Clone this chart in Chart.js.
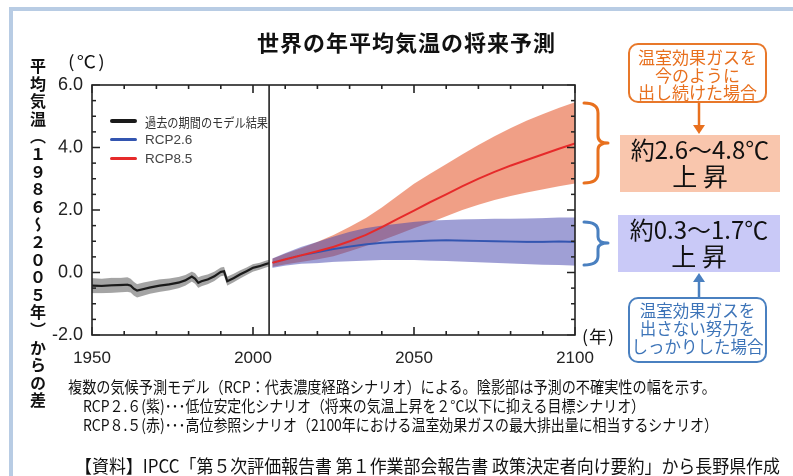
<!DOCTYPE html>
<html lang="ja">
<head>
<meta charset="utf-8">
<title>世界の年平均気温の将来予測</title>
<script src="https://cdn.jsdelivr.net/npm/chart.js@4.4.1/dist/chart.umd.min.js"></script>
<style>
  html, body { margin: 0; padding: 0; background: #fff; }
  body { width: 793px; height: 476px; position: relative; overflow: hidden;
         font-family: "Noto Sans CJK JP", "Noto Sans", sans-serif; color: #111; }
  #frame { position: absolute; left: 9px; top: 7px; width: 800px; height: 480px;
           border-left: 4px solid #b8cce4; border-top: 4px solid #b8cce4; }
  #chart { position: absolute; left: 0; top: 0; }
  .t { position: absolute; white-space: nowrap; line-height: 1; transform-origin: left center; }
  #title { left: 257px; top: 30px; font-size: 22px; font-weight: bold; letter-spacing: 1px; }
  #ylabel { left: 30px; top: 58px; font-size: 16px; font-weight: bold; line-height: 1;
            writing-mode: vertical-rl; letter-spacing: 1.6px; }
  #unitC { left: 68px; top: 52px; font-size: 17px; letter-spacing: 2px; }
  #unitY { left: 582px; top: 327px; font-size: 17px; letter-spacing: 1px; }
  .sw { position: absolute; left: 110px; width: 27px; height: 3.5px; border-radius: 2px; }
  .lg { font-size: 13px; color: #333; }
  .lgr { font-family: "Liberation Sans", Arial, sans-serif; font-size: 13.5px; color: #444; }
  .rbox { position: absolute; box-sizing: border-box; border-radius: 10px; background: #fff;
          text-align: center; }
  .vbox { position: absolute; box-sizing: border-box; text-align: center; color: #111; }
  .note { font-size: 16px; color: #111; }
  #src { font-size: 18px; }
  svg { position: absolute; left: 0; top: 0; }
</style>
</head>
<body>
<div id="frame"></div>
<canvas id="chart" width="793" height="476"></canvas>

<div class="t" id="title">世界の年平均気温の将来予測</div>
<div class="t" id="ylabel">平均気温（１９８６～２００５年）からの差</div>
<div class="t" id="unitC" data-w="39">(℃)</div>
<div class="t" id="unitY" data-w="33">(年)</div>

<div class="sw" style="top:119px;background:#1a1a1a"></div>
<div class="sw" style="top:137.5px;background:#3355b0"></div>
<div class="sw" style="top:156.5px;background:#e62a2a"></div>
<div class="t lg" style="left:145px;top:115px" data-w="123">過去の期間のモデル結果</div>
<div class="t lgr" style="left:145px;top:132.5px">RCP2.6</div>
<div class="t lgr" style="left:145px;top:151.5px">RCP8.5</div>

<div class="rbox" style="left:628px;top:43px;width:139px;height:60px;border:2px solid #e8782a;color:#e8701e;font-size:17px;line-height:17.5px;padding-top:3px">温室効果ガスを<br>今のように<br>出し続けた場合</div>
<div class="vbox" style="left:620px;top:135px;width:160px;height:57px;background:#f9c6ad;font-size:24px;line-height:27px">約2.6～4.8℃<br><span style="font-size:25px">上 昇</span></div>
<div class="vbox" style="left:618px;top:215px;width:162px;height:57px;background:#c9c9f7;font-size:24px;line-height:27px">約0.3～1.7℃<br><span style="font-size:25px">上 昇</span></div>
<div class="rbox" style="left:628px;top:297px;width:139px;height:66px;border:2px solid #4a80c0;color:#3d74b8;font-size:16.5px;line-height:18px;padding-top:2px">温室効果ガスを<br>出さない努力を<br>しっかりした場合</div>

<svg width="793" height="476">
  <g fill="none" stroke-width="3" stroke-linejoin="round" stroke-linecap="round">
    <path stroke="#e8701e" d="M584,103 Q598,103 598,113 L598,136 Q598,143 608,143 Q598,143 598,150 L598,173 Q598,183 584,183"/>
    <path stroke="#4a80c0" d="M584,222 Q598,222 598,231 L598,237 Q598,243 608,243 Q598,243 598,249 L598,256 Q598,265 584,265"/>
  </g>
  <line x1="699" y1="103" x2="699" y2="126" stroke="#e8701e" stroke-width="2.5"/>
  <polygon points="693,125 705,125 699,134" fill="#e8701e"/>
  <line x1="699" y1="297" x2="699" y2="281" stroke="#4a80c0" stroke-width="2.5"/>
  <polygon points="693,282 705,282 699,273" fill="#4a80c0"/>
</svg>

<div class="t note" style="left:68px;top:378px" data-w="648">複数の気候予測モデル（RCP：代表濃度経路シナリオ）による。陰影部は予測の不確実性の幅を示す。</div>
<div class="t note" style="left:83px;top:397px" data-w="562">RCP２.６(紫)･･･低位安定化シナリオ（将来の気温上昇を２°C以下に抑える目標シナリオ）</div>
<div class="t note" style="left:83px;top:416px" data-w="635">RCP８.５(赤)･･･高位参照シナリオ（2100年における温室効果ガスの最大排出量に相当するシナリオ）</div>
<div class="t" id="src" style="left:75px;top:456px" data-w="705">【資料】IPCC「第５次評価報告書 第１作業部会報告書 政策決定者向け要約」から長野県作成</div>

<script>
// past period model result (1950-2005)
const histYears = [1950, 1953, 1956, 1959, 1961, 1962, 1963, 1964, 1966, 1968, 1971, 1974, 1977, 1979, 1981,
                   1982, 1983, 1984, 1986, 1988, 1990, 1991, 1992, 1994, 1996, 1998, 2000, 2002, 2004, 2005];
const histMean = [-0.42, -0.43, -0.41, -0.40, -0.39, -0.42, -0.52, -0.58, -0.53, -0.48, -0.42, -0.38, -0.32, -0.25, -0.13,
                  -0.20, -0.33, -0.28, -0.22, -0.12, 0.02, 0.04, -0.28, -0.18, -0.06, 0.04, 0.15, 0.20, 0.27, 0.30];
const histHigh = [-0.18, -0.20, -0.17, -0.17, -0.15, -0.20, -0.30, -0.37, -0.32, -0.28, -0.22, -0.19, -0.14, -0.08, 0.03,
                  -0.02, -0.15, -0.11, -0.06, 0.03, 0.16, 0.18, -0.13, -0.04, 0.07, 0.16, 0.27, 0.31, 0.38, 0.41];
const histLow = [-0.66, -0.66, -0.65, -0.63, -0.62, -0.64, -0.74, -0.80, -0.74, -0.68, -0.62, -0.57, -0.50, -0.42, -0.29,
                 -0.36, -0.49, -0.44, -0.37, -0.27, -0.12, -0.10, -0.42, -0.31, -0.19, -0.08, 0.03, 0.09, 0.16, 0.19];

// projections (2006-2100)
const futureYears = [2006, 2010, 2015, 2020, 2025, 2030, 2035, 2040, 2045, 2050,
                     2055, 2060, 2065, 2070, 2075, 2080, 2085, 2090, 2095, 2100];
const rcp85Mean = [0.31, 0.42, 0.55, 0.68, 0.82, 1.00, 1.20, 1.45, 1.72, 1.98,
                   2.25, 2.50, 2.76, 3.00, 3.22, 3.42, 3.60, 3.78, 3.96, 4.13];
const rcp85High = [0.44, 0.60, 0.78, 0.98, 1.20, 1.46, 1.74, 2.08, 2.46, 2.84,
                   3.16, 3.47, 3.78, 4.08, 4.36, 4.62, 4.86, 5.07, 5.27, 5.45];
const rcp85Low = [0.18, 0.26, 0.34, 0.42, 0.52, 0.68, 0.85, 1.03, 1.22, 1.42,
                  1.60, 1.80, 2.00, 2.17, 2.32, 2.45, 2.56, 2.66, 2.76, 2.85];
const rcp26Mean = [0.31, 0.42, 0.55, 0.65, 0.75, 0.83, 0.90, 0.95, 0.98, 1.00,
                   1.02, 1.03, 1.02, 1.01, 1.00, 0.99, 0.98, 0.98, 0.99, 0.98];
const rcp26High = [0.45, 0.62, 0.82, 0.98, 1.15, 1.30, 1.42, 1.50, 1.56, 1.62,
                   1.66, 1.68, 1.70, 1.71, 1.72, 1.72, 1.73, 1.74, 1.76, 1.76];
const rcp26Low = [0.15, 0.22, 0.28, 0.30, 0.34, 0.36, 0.38, 0.40, 0.40, 0.40,
                  0.38, 0.37, 0.35, 0.33, 0.31, 0.29, 0.27, 0.25, 0.24, 0.22];

// axes
const xRange = [1950, 2100];
const yRange = [-2, 6];
const xMajorStep = 50, xMinorStep = 10;
const yMajorStep = 2, yMinorStep = 0.5;
const dividerYear = 2005;

const pts = (xs, ys) => xs.map((x, i) => ({ x: x, y: ys[i] }));

// border + inward ticks on all four sides
const frameTicks = {
  id: 'frameTicks',
  afterDatasetsDraw(chart) {
    const { ctx, chartArea: a, scales: { x, y } } = chart;
    ctx.save();
    ctx.strokeStyle = '#222';
    ctx.lineWidth = 1.6;
    ctx.strokeRect(a.left, a.top, a.right - a.left, a.bottom - a.top);
    ctx.beginPath();
    for (let v = xRange[0]; v <= xRange[1]; v += xMinorStep) {
      const px = x.getPixelForValue(v);
      const len = (v - xRange[0]) % xMajorStep === 0 ? 8 : 4;
      ctx.moveTo(px, a.bottom); ctx.lineTo(px, a.bottom - len);
      ctx.moveTo(px, a.top); ctx.lineTo(px, a.top + len);
    }
    for (let v = yRange[0]; v <= yRange[1]; v += yMinorStep) {
      const py = y.getPixelForValue(v);
      const len = (v - yRange[0]) % yMajorStep === 0 ? 8 : 4;
      ctx.moveTo(a.left, py); ctx.lineTo(a.left + len, py);
      ctx.moveTo(a.right, py); ctx.lineTo(a.right - len, py);
    }
    ctx.stroke();
    ctx.restore();
  }
};

const edge = (data, order) => ({
  data: data, borderWidth: 0, pointRadius: 0, fill: false,
  backgroundColor: 'transparent', borderColor: 'transparent', order: order
});
const band = (data, target, color, order) => ({
  data: data, borderWidth: 0, pointRadius: 0, fill: { target: target },
  backgroundColor: color, borderColor: 'transparent', order: order
});
const line = (data, color, width, order) => ({
  data: data, borderColor: color, borderWidth: width, pointRadius: 0,
  fill: false, tension: 0, order: order
});

new Chart(document.getElementById('chart'), {
  type: 'line',
  data: {
    datasets: [
      edge(pts(histYears, histLow), 5),
      band(pts(histYears, histHigh), 0, 'rgba(90,90,90,0.55)', 5),
      edge(pts(futureYears, rcp85Low), 4),
      band(pts(futureYears, rcp85High), 2, 'rgba(230,100,60,0.62)', 4),
      edge(pts(futureYears, rcp26Low), 3),
      band(pts(futureYears, rcp26High), 4, 'rgba(70,70,175,0.52)', 3),
      line(pts(futureYears, rcp26Mean), '#3355b0', 2, 2),
      line(pts(futureYears, rcp85Mean), '#e62a2a', 2, 1),
      line(pts(histYears, histMean), '#1a1a1a', 2.2, 1),
      line([{ x: dividerYear, y: yRange[0] }, { x: dividerYear, y: yRange[1] }], '#222', 1.6, 0)
    ]
  },
  options: {
    responsive: false,
    animation: false,
    devicePixelRatio: 2,
    layout: { padding: { left: 32, top: 85, right: 218, bottom: 101 } },
    plugins: {
      legend: { display: false },
      tooltip: { enabled: false },
      colors: { enabled: false }
    },
    scales: {
      x: {
        type: 'linear', min: xRange[0], max: xRange[1],
        grid: { display: false, drawTicks: false },
        border: { display: false },
        afterFit: s => { s.height = 40; },
        ticks: {
          stepSize: xMajorStep, padding: 13, color: '#222',
          font: { family: '"Liberation Sans", Arial, sans-serif', size: 17 },
          callback: v => String(v)
        }
      },
      y: {
        type: 'linear', min: yRange[0], max: yRange[1],
        grid: { display: false, drawTicks: false },
        border: { display: false },
        afterFit: s => { s.width = 60; },
        ticks: {
          stepSize: yMajorStep, padding: 9, color: '#222',
          font: { family: '"Liberation Sans", Arial, sans-serif', size: 18 },
          callback: v => v.toFixed(1)
        }
      }
    }
  },
  plugins: [frameTicks]
});

// squeeze condensed captions to their measured widths
document.querySelectorAll('[data-w]').forEach(el => {
  const w = el.getBoundingClientRect().width;
  el.style.transform = 'scaleX(' + (el.dataset.w / w) + ')';
});
</script>
</body>
</html>
